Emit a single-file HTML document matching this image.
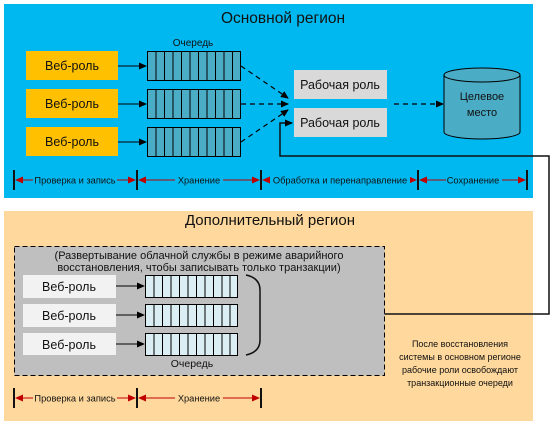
<!DOCTYPE html>
<html><head><meta charset="utf-8"><style>
body{margin:0;background:#fff;}
svg{display:block;font-family:"Liberation Sans","DejaVu Sans",sans-serif;}
</style></head><body>
<svg width="555" height="426" viewBox="0 0 555 426" xmlns="http://www.w3.org/2000/svg">
<defs>
<marker id="a" markerWidth="8" markerHeight="8" refX="7" refY="4" orient="auto" markerUnits="userSpaceOnUse"><path d="M0,0.5 L8,4 L0,7.5z" fill="#000"/></marker>
<marker id="r" markerWidth="8" markerHeight="8" refX="7" refY="4" orient="auto-start-reverse" markerUnits="userSpaceOnUse"><path d="M0,0.5 L8,4 L0,7.5z" fill="#c00000"/></marker>
</defs>
<rect x="4" y="4" width="529" height="194" fill="#00b8f0"/>
<rect x="4" y="211" width="529" height="210" fill="#fed89c"/>
<text x="283" y="23" font-size="15.5" text-anchor="middle" fill="#111">Основной регион</text>
<text x="193" y="46" font-size="10" text-anchor="middle" fill="#111">Очередь</text>
<g font-size="12.5" text-anchor="middle" fill="#111">
<rect x="26" y="51" width="92" height="29" fill="#ffc000"/><text x="72" y="70">Веб-роль</text>
<rect x="26" y="89" width="92" height="29" fill="#ffc000"/><text x="72" y="108">Веб-роль</text>
<rect x="26" y="127" width="92" height="29" fill="#ffc000"/><text x="72" y="146">Веб-роль</text>
</g>
<g stroke="#000" stroke-width="1">
<line x1="118" y1="66" x2="146" y2="66" marker-end="url(#a)"/>
<line x1="118" y1="104" x2="146" y2="104" marker-end="url(#a)"/>
<line x1="118" y1="142" x2="146" y2="142" marker-end="url(#a)"/>
</g>
<g id="q1" stroke="#000" stroke-width="1" fill="#4bacc6">
<rect x="147.5" y="51.5" width="93" height="29"/>
<path d="M156 51v29M164.5 51v29M173 51v29M181.5 51v29M190 51v29M198.5 51v29M207 51v29M215.5 51v29M224 51v29M232.5 51v29"/>
</g>
<use href="#q1" y="38"/><use href="#q1" y="76"/>
<g stroke="#000" stroke-width="1.2" stroke-dasharray="5,4" fill="none">
<line x1="241" y1="66" x2="288" y2="98" marker-end="url(#a)"/>
<line x1="241" y1="104" x2="288" y2="104" marker-end="url(#a)"/>
<line x1="241" y1="142" x2="288" y2="110" marker-end="url(#a)"/>
<line x1="394" y1="104" x2="443" y2="104" marker-end="url(#a)"/>
</g>
<g font-size="12.5" text-anchor="middle" fill="#111">
<rect x="294" y="70" width="93" height="29" fill="#d9d9d9"/><text x="340" y="89">Рабочая роль</text>
<rect x="294" y="108" width="93" height="29" fill="#d9d9d9"/><text x="340" y="127">Рабочая роль</text>
</g>
<path d="M444 75 L444 132 A38 7 0 0 0 520 132 L520 75" fill="#4bacc6" stroke="#000"/>
<ellipse cx="482" cy="75" rx="38" ry="7" fill="#4bacc6" stroke="#000"/>
<text x="482" y="100" font-size="11" text-anchor="middle" fill="#111">Целевое</text>
<text x="482" y="116" font-size="11" text-anchor="middle" fill="#111">место</text>
<path d="M260 314 H549 V156 H280 V123 H292" fill="none" stroke="#111" stroke-width="1.5" marker-end="url(#a)"/>
<g stroke="#111" stroke-width="2">
<line x1="14" y1="170" x2="14" y2="190"/><line x1="137" y1="170" x2="137" y2="190"/><line x1="261" y1="170" x2="261" y2="190"/><line x1="418" y1="170" x2="418" y2="190"/><line x1="527" y1="170" x2="527" y2="190"/>
</g>
<g stroke="#c00000" stroke-width="1">
<line x1="16" y1="180" x2="135" y2="180" marker-start="url(#r)" marker-end="url(#r)"/>
<line x1="139" y1="180" x2="259" y2="180" marker-start="url(#r)" marker-end="url(#r)"/>
<line x1="263" y1="180" x2="416" y2="180" marker-start="url(#r)" marker-end="url(#r)"/>
<line x1="420" y1="180" x2="525" y2="180" marker-start="url(#r)" marker-end="url(#r)"/>
</g>
<g font-size="9.3" text-anchor="middle" fill="#111">
<rect x="33" y="175" width="84" height="10" fill="#00b8f0"/><text x="75" y="183.5">Проверка и запись</text>
<rect x="175" y="175" width="48" height="10" fill="#00b8f0"/><text x="199" y="183.5">Хранение</text>
<rect x="270" y="175" width="140" height="10" fill="#00b8f0"/><text x="340" y="183.5">Обработка и перенаправление</text>
<rect x="446" y="175" width="56" height="10" fill="#00b8f0"/><text x="473" y="183.5">Сохранение</text>
</g>
<text x="270" y="225" font-size="15" text-anchor="middle" fill="#111">Дополнительный регион</text>
<rect x="14.5" y="246.5" width="370" height="129" fill="#bfbfbf" stroke="#000" stroke-dasharray="5,3"/>
<text x="199" y="259" font-size="11" text-anchor="middle" fill="#111">(Развертывание облачной службы в режиме аварийного</text>
<text x="199" y="271" font-size="11" text-anchor="middle" fill="#111">восстановления, чтобы записывать только транзакции)</text>
<g font-size="12.5" text-anchor="middle" fill="#111">
<rect x="23" y="275" width="93" height="23" fill="#f2f2f2"/><text x="69" y="291">Веб-роль</text>
<rect x="23" y="304" width="93" height="23" fill="#f2f2f2"/><text x="69" y="320">Веб-роль</text>
<rect x="23" y="333" width="93" height="22" fill="#f2f2f2"/><text x="69" y="349">Веб-роль</text>
</g>
<g stroke="#000" stroke-width="1">
<line x1="116" y1="286" x2="144" y2="286" marker-end="url(#a)"/>
<line x1="116" y1="315" x2="144" y2="315" marker-end="url(#a)"/>
<line x1="116" y1="344" x2="144" y2="344" marker-end="url(#a)"/>
</g>
<g id="q2" stroke="#000" stroke-width="1" fill="#daeef3">
<rect x="145.5" y="275.5" width="92" height="22"/>
<path d="M154 275v23M162.5 275v23M171 275v23M179.5 275v23M188 275v23M196.5 275v23M205 275v23M213.5 275v23M222 275v23M230 275v23"/>
</g>
<use href="#q2" y="29"/><use href="#q2" y="58"/>
<text x="192" y="367" font-size="10.5" text-anchor="middle" fill="#111">Очередь</text>
<path d="M246 275 Q260 278 260 290 V340 Q260 352 246 355" fill="none" stroke="#111" stroke-width="1.5"/>
<g font-size="9" text-anchor="middle" fill="#111">
<text x="460" y="347">После восстановления</text>
<text x="460" y="360">системы в основном регионе</text>
<text x="460" y="373">рабочие роли освобождают</text>
<text x="460" y="386">транзакционные очереди</text>
</g>
<g stroke="#111" stroke-width="2">
<line x1="14" y1="388" x2="14" y2="408"/><line x1="137" y1="388" x2="137" y2="408"/><line x1="261" y1="388" x2="261" y2="408"/>
</g>
<g stroke="#c00000" stroke-width="1">
<line x1="16" y1="398" x2="135" y2="398" marker-start="url(#r)" marker-end="url(#r)"/>
<line x1="139" y1="398" x2="259" y2="398" marker-start="url(#r)" marker-end="url(#r)"/>
</g>
<g font-size="9.3" text-anchor="middle" fill="#111">
<rect x="33" y="393" width="84" height="10" fill="#fed89c"/><text x="75" y="401.5">Проверка и запись</text>
<rect x="175" y="393" width="48" height="10" fill="#fed89c"/><text x="199" y="401.5">Хранение</text>
</g>
</svg>
</body></html>
